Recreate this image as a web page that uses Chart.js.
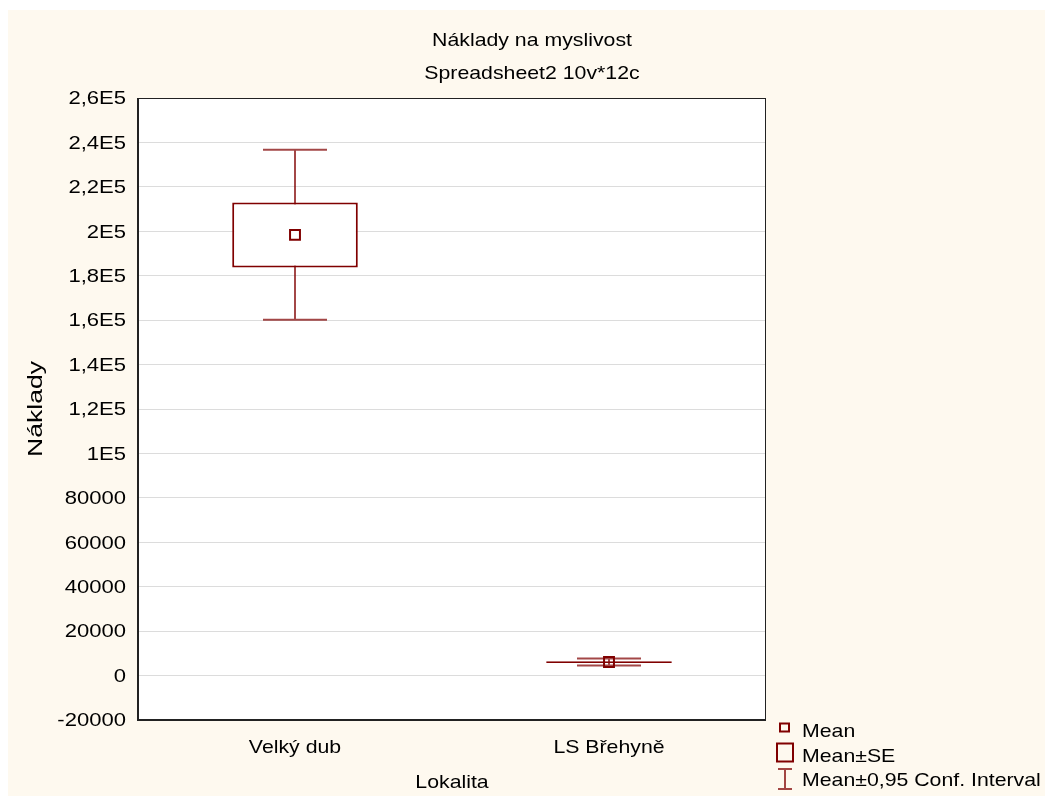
<!DOCTYPE html>
<html><head><meta charset="utf-8">
<script src="https://cdn.jsdelivr.net/npm/chart.js@4"></script>
<style>html,body{margin:0;padding:0;background:#fff;}#wrap{width:1045px;height:796px;}</style>
</head><body><div id="wrap"><canvas id="c" width="1045" height="796"></canvas></div>
<script>
const categories = ['Velký dub', 'LS Břehyně'];
const meanValues = [198400, 6100];
const seLow = [183700, 5700];
const seHigh = [213000, 6500];
const ciLow = [160200, 4500];
const ciHigh = [236700, 7700];
const yTickLabels = ['-20000','0','20000','40000','60000','80000','1E5','1,2E5','1,4E5','1,6E5','1,8E5','2E5','2,2E5','2,4E5','2,6E5'];
const chartTitle = 'Náklady na myslivost';
const chartSubtitle = 'Spreadsheet2 10v*12c';
const xAxisTitle = 'Lokalita';
const yAxisTitle = 'Náklady';
const legendLabels = ['Mean', 'Mean±SE', 'Mean±0,95 Conf. Interval'];

const FONT = '"Liberation Sans", Arial, sans-serif';
const FS = 19;
const DARK = '#800000';
const WHISK = 'rgba(128,0,0,0.72)';
const CREAM = '#fef9ef';

function stretchText(ctx, text, x, y, align, k) {
  ctx.save();
  ctx.translate(x, y);
  ctx.scale(k, 1);
  ctx.textAlign = align;
  ctx.fillText(text, 0, 0);
  ctx.restore();
}

const bgPlugin = {
  id: 'bg',
  beforeDraw(chart) {
    const ctx = chart.ctx;
    ctx.save();
    ctx.fillStyle = '#ffffff';
    ctx.fillRect(0, 0, chart.width, chart.height);
    ctx.fillStyle = CREAM;
    ctx.fillRect(8, 10, chart.width - 8, chart.height - 10);
    const a = chart.chartArea;
    ctx.fillStyle = '#ffffff';
    ctx.fillRect(a.left, a.top, a.right - a.left, a.bottom - a.top);
    ctx.restore();
  }
};

const whiskerPlugin = {
  id: 'whiskers',
  beforeDatasetsDraw(chart) {
    const ctx = chart.ctx;
    const xs = chart.scales.x, ys = chart.scales.y;
    ctx.save();
    ctx.strokeStyle = WHISK;
    ctx.lineWidth = 2;
    for (let i = 0; i < categories.length; i++) {
      const x = Math.round(xs.getPixelForValue(i));
      const y1 = ys.getPixelForValue(ciLow[i]);
      const y2 = ys.getPixelForValue(ciHigh[i]);
      ctx.beginPath();
      ctx.moveTo(x, y1); ctx.lineTo(x, y2);
      ctx.moveTo(x - 32, y1); ctx.lineTo(x + 32, y1);
      ctx.moveTo(x - 32, y2); ctx.lineTo(x + 32, y2);
      ctx.stroke();
    }
    ctx.restore();
  }
};

const decorPlugin = {
  id: 'decor',
  afterDraw(chart) {
    const ctx = chart.ctx;
    const a = chart.chartArea;
    const xs = chart.scales.x, ys = chart.scales.y;
    ctx.save();
    // frame
    ctx.strokeStyle = '#222';
    ctx.lineWidth = 1;
    ctx.beginPath();
    ctx.moveTo(a.left, a.top + 0.5); ctx.lineTo(a.right, a.top + 0.5);
    ctx.moveTo(a.right - 0.5, a.top); ctx.lineTo(a.right - 0.5, a.bottom);
    ctx.stroke();
    ctx.lineWidth = 2;
    ctx.beginPath();
    ctx.moveTo(a.left, a.top); ctx.lineTo(a.left, a.bottom);
    ctx.lineTo(a.right, a.bottom);
    ctx.stroke();

    ctx.fillStyle = '#000';
    ctx.font = FS + 'px ' + FONT;

    // y tick labels (positions from the library's scale ticks)
    ctx.textBaseline = 'middle';
    ys.ticks.forEach((t, i) => {
      const y = ys.getPixelForTick(i);
      stretchText(ctx, yTickLabels[i], 126, y + 1, 'right', 1.16);
    });
    ctx.textBaseline = 'alphabetic';
    // x tick labels
    categories.forEach((c, i) => {
      stretchText(ctx, c, xs.getPixelForValue(i), 753, 'center', 1.12);
    });

    // titles
    stretchText(ctx, chartTitle, 532, 46, 'center', 1.12);
    stretchText(ctx, chartSubtitle, 532, 79, 'center', 1.12);
    stretchText(ctx, xAxisTitle, (a.left + a.right) / 2, 788, 'center', 1.12);
    ctx.save();
    ctx.font = '20px ' + FONT;
    ctx.translate(42, (a.top + a.bottom) / 2);
    ctx.rotate(-Math.PI / 2);
    stretchText(ctx, yAxisTitle, 0, 0, 'center', 1.33);
    ctx.restore();

    // legend
    ctx.strokeStyle = DARK;
    ctx.lineWidth = 2;
    ctx.strokeRect(780, 723.5, 9, 8);
    ctx.strokeRect(777, 743.5, 16, 18);
    ctx.strokeStyle = WHISK;
    ctx.beginPath();
    ctx.moveTo(785, 769); ctx.lineTo(785, 789);
    ctx.moveTo(778, 769); ctx.lineTo(792, 769);
    ctx.moveTo(778, 789); ctx.lineTo(792, 789);
    ctx.stroke();
    ctx.fillStyle = '#000';
    ctx.font = FS + 'px ' + FONT;
    stretchText(ctx, legendLabels[0], 802, 737, 'left', 1.12);
    stretchText(ctx, legendLabels[1], 802, 762, 'left', 1.12);
    stretchText(ctx, legendLabels[2], 802, 786, 'left', 1.12);
    ctx.restore();
  }
};

new Chart(document.getElementById('c'), {
  type: 'bar',
  data: {
    labels: categories,
    datasets: [
      {
        type: 'line',
        label: 'Mean',
        data: meanValues,
        showLine: false,
        pointStyle: 'rect',
        pointRadius: 7,
        pointBorderWidth: 2,
        pointBorderColor: DARK,
        pointBackgroundColor: 'rgba(0,0,0,0)',
        order: 0
      },
      {
        label: 'Mean±SE',
        data: seLow.map((v, i) => [v, seHigh[i]]),
        backgroundColor: '#ffffff',
        borderColor: DARK,
        borderWidth: 2,
        borderSkipped: false,
        categoryPercentage: 0.8,
        barPercentage: 0.5,
        order: 1
      }
    ]
  },
  options: {
    responsive: false,
    devicePixelRatio: 1,
    animation: false,
    events: [],
    layout: { padding: { left: 0, top: 98, right: 279, bottom: 0 } },
    plugins: { legend: { display: false }, tooltip: { enabled: false }, title: { display: false } },
    scales: {
      x: {
        afterFit(s) { s.height = 76; },
        grid: { display: false },
        border: { display: false },
        ticks: { display: false }
      },
      y: {
        min: -20000, max: 260000,
        afterFit(s) { s.width = 138; },
        grid: { color: '#dcdcdc', lineWidth: 1, drawTicks: false },
        border: { display: false },
        ticks: {
          display: false,
          stepSize: 20000,
          callback: (v, i) => yTickLabels[i]
        }
      }
    }
  },
  plugins: [bgPlugin, whiskerPlugin, decorPlugin]
});
</script>
</body></html>
